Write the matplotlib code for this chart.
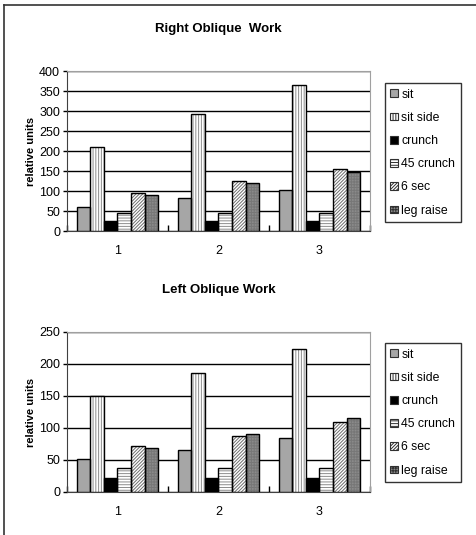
import numpy as np
import matplotlib
matplotlib.use('Agg')
from matplotlib import pyplot as plt
from matplotlib.lines import Line2D
from matplotlib.patches import Patch

plt.rcParams['font.family'] = ['Liberation Sans', 'DejaVu Sans']
plt.rcParams['hatch.linewidth'] = 0.7

groups = ['1', '2', '3']
series = ['sit', 'sit side', 'crunch', '45 crunch', '6 sec', 'leg raise']

right_sit = [60, 82, 103]
right_sit_side = [210, 292, 366]
right_crunch = [24, 24, 24]
right_45_crunch = [46, 46, 46]
right_6_sec = [96, 126, 155]
right_leg_raise = [89, 119, 147]

left_sit = [52, 66, 84]
left_sit_side = [150, 186, 224]
left_crunch = [22, 22, 22]
left_45_crunch = [38, 38, 38]
left_6_sec = [72, 87, 110]
left_leg_raise = [68, 90, 115]

# fill, hatch, hatch colour
styles = [
    ('#a6a6a6', None, '#a6a6a6'),
    ('white', '||||||', '#8c8c8c'),
    ('black', None, 'black'),
    ('white', '------', '#8c8c8c'),
    ('white', '//////////', '#6e6e6e'),
    ('#8a8a8a', '++++++', '#777777'),
]

fig = plt.figure(figsize=(4.77, 5.35), dpi=100)

# outer frame (top and left edges visible)
fig.add_artist(Line2D([4/477, 4/477], [0, 1 - 5/535], transform=fig.transFigure, color='#333333', lw=1.2))
fig.add_artist(Line2D([4/477, 1], [1 - 5/535, 1 - 5/535], transform=fig.transFigure, color='#333333', lw=1.2))


def draw(ax, data, ymax, step, title, legend_top):
    x = np.arange(1, len(groups) + 1)
    w = 0.135
    for i, vals in enumerate(data):
        fc, hatch, hc = styles[i]
        pos = x + (i - 2.5) * w
        ax.bar(pos, vals, w, color=fc, hatch=hatch, edgecolor=hc, lw=0, zorder=3)
        ax.bar(pos, vals, w, fill=False, edgecolor='black', lw=1.0, zorder=4)
    ax.set_xlim(0.5, 3.5)
    ax.set_ylim(0, ymax)
    ax.set_yticks(np.arange(0, ymax + 1, step))
    ax.set_xticks(x)
    ax.set_xticklabels(groups)
    ax.set_xticks([0.5, 1.5, 2.5, 3.5], minor=True)
    ax.tick_params(axis='x', which='major', length=0, pad=10, labelsize=9)
    ax.tick_params(axis='x', which='minor', length=4, direction='in', width=1)
    ax.tick_params(axis='y', length=3, width=1, labelsize=9, pad=2)
    ax.yaxis.grid(True, color='black', lw=1.0, zorder=0)
    ax.set_axisbelow(True)
    ax.spines['top'].set_color('#a0a0a0')
    ax.spines['right'].set_color('#a0a0a0')
    ax.spines['left'].set_color('#404040')
    ax.spines['bottom'].set_color('#404040')
    ax.set_ylabel('relative units', fontsize=8, fontweight='bold', labelpad=2)
    ax.set_title(title, fontsize=9.5, fontweight='bold', pad=28)
    handles = []
    for fc, hatch, hc in styles:
        handles.append(Patch(facecolor=fc, hatch=hatch, edgecolor='#303030', lw=0.8))
    fig.legend(handles, series, loc='upper left', bbox_to_anchor=(385/477, legend_top),
               fontsize=8.8, frameon=True, fancybox=False, edgecolor='black',
               handlelength=0.6, handleheight=0.6, handletextpad=0.3,
               labelspacing=0.92, borderpad=0.45, borderaxespad=0)


ax1 = fig.add_axes([67/477, 1 - 231/535, 303/477, 160/535])
draw(ax1, [right_sit, right_sit_side, right_crunch, right_45_crunch, right_6_sec, right_leg_raise],
     400, 50, 'Right Oblique  Work', 1 - 83/535)

ax2 = fig.add_axes([67/477, 1 - 492/535, 303/477, 160/535])
draw(ax2, [left_sit, left_sit_side, left_crunch, left_45_crunch, left_6_sec, left_leg_raise],
     250, 50, 'Left Oblique Work', 1 - 343/535)

fig.savefig('out.png', dpi=100)
